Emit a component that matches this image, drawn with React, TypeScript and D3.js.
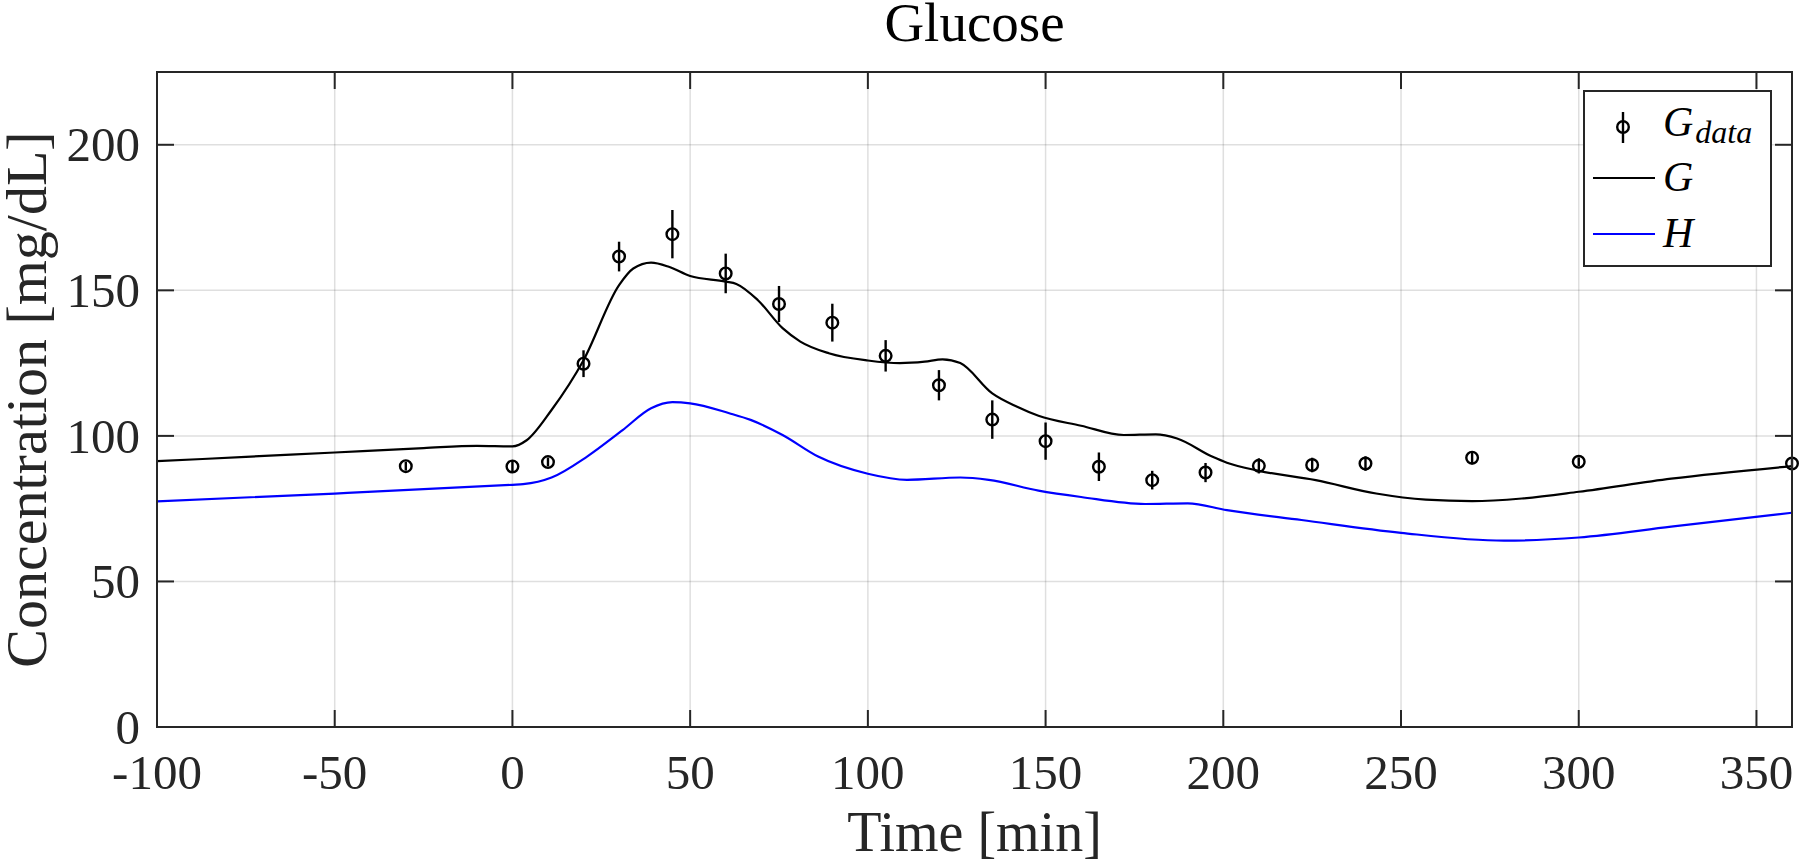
import * as d3 from "d3";
import { useEffect, useRef } from "react";

const WIDTH = 1800;
const HEIGHT = 865;

// measured samples (minutes, mg/dL)
const dataTime = [-30, 0, 10, 20, 30, 45, 60, 75, 90, 105, 120, 135, 150, 165, 180, 195, 210, 225, 240, 270, 300, 360];
const dataValue = [89.6, 89.5, 91, 124.8, 161.6, 169.3, 155.8, 145.3, 138.9, 127.5, 117.4, 105.6, 98.2, 89.4, 84.8, 87.4, 89.7, 90, 90.5, 92.5, 91.1, 90.5];
const dataErr = [1.5, 2, 1.5, 4.6, 5.1, 8.3, 6.8, 6.2, 6.5, 5.4, 5.2, 6.6, 6.4, 4.9, 3.2, 3.3, 2.6, 2.5, 2.5, 2.3, 1.5, 2];

// model G
const gTime = [-100, -75, -50, -25, -10, 0, 4, 11, 20, 30, 34, 39, 44, 50, 60, 63, 69, 76, 81, 89, 100, 109, 116, 121, 126, 135, 142, 148, 160, 172, 181, 187, 197, 201, 210, 226, 243, 257, 270, 284, 300, 326, 360];
const gValue = [91.3, 92.8, 94.3, 95.8, 96.6, 96.4, 98.5, 108.9, 126, 151.8, 157.5, 159.5, 158.1, 154.9, 153, 152.2, 146.7, 137, 132.4, 128.4, 125.9, 125, 125.5, 126.3, 125, 114.6, 110, 106.9, 103.5, 100.3, 100.5, 99.1, 92.8, 90.8, 88, 84.8, 80.2, 78.1, 77.6, 78.5, 80.8, 85.3, 89.6];

// model H
const hTime = [-100, -50, 0, 3, 11, 21, 31, 39, 45, 50, 61, 67, 76, 86, 100, 111, 126, 134, 148, 160, 178, 190, 201, 222, 250, 279, 300, 326, 360];
const hValue = [77.5, 80.2, 83.2, 83.4, 85.7, 92.9, 102, 109.5, 111.6, 111.2, 107.8, 105.5, 100.3, 92.9, 87, 84.9, 85.7, 84.9, 81.2, 79, 76.6, 76.8, 74.5, 71.1, 66.7, 64, 65.1, 68.8, 73.6];

const xTicks = [-100, -50, 0, 50, 100, 150, 200, 250, 300, 350];
const yTicks = [0, 50, 100, 150, 200];

const FONT = '"Liberation Serif", "Times New Roman", serif';
const AXIS = "#262626";

export default function App() {
	const svgRef = useRef<SVGSVGElement>(null);

	useEffect(() => {
		if (!svgRef.current) return;
		document.body.style.margin = "0";

		const left = 157;
		const right = 1792;
		const top = 72;
		const bottom = 727;

		const svg = d3.select(svgRef.current);
		svg.selectAll("*").remove();
		svg.attr("width", WIDTH).attr("height", HEIGHT);

		const x = d3.scaleLinear().domain([-100, 360]).range([left, right]);
		const y = d3.scaleLinear().domain([0, 225]).range([bottom, top]);

		svg.append("rect").attr("width", WIDTH).attr("height", HEIGHT).attr("fill", "#fff");

		svg.append("defs")
			.append("clipPath")
			.attr("id", "plot-clip")
			.append("rect")
			.attr("x", left)
			.attr("y", top)
			.attr("width", right - left)
			.attr("height", bottom - top);

		// grid
		const grid = svg.append("g").attr("stroke", AXIS).attr("stroke-opacity", 0.15).attr("stroke-width", 1.5);
		grid.selectAll(".gx")
			.data(xTicks)
			.enter()
			.append("line")
			.attr("x1", (d) => x(d))
			.attr("x2", (d) => x(d))
			.attr("y1", top)
			.attr("y2", bottom);
		grid.selectAll(".gy")
			.data(yTicks)
			.enter()
			.append("line")
			.attr("x1", left)
			.attr("x2", right)
			.attr("y1", (d) => y(d))
			.attr("y2", (d) => y(d));

		// curves
		const lineOf = (ts: number[], vs: number[]) =>
			d3
				.line<number>()
				.x((_, i) => x(ts[i]))
				.y((d) => y(d))
				.curve(d3.curveMonotoneX)(vs);

		const curves = svg.append("g").attr("clip-path", "url(#plot-clip)").attr("fill", "none").attr("stroke-width", 2.2);
		curves.append("path").attr("d", lineOf(hTime, hValue)).attr("stroke", "#0000ff");
		curves.append("path").attr("d", lineOf(gTime, gValue)).attr("stroke", "#000");

		// error bars + markers
		const pts = svg.append("g").attr("stroke", "#000").attr("fill", "none").attr("stroke-width", 2.4);
		pts.selectAll(".eb")
			.data(dataValue)
			.enter()
			.append("line")
			.attr("x1", (_, i) => x(dataTime[i]))
			.attr("x2", (_, i) => x(dataTime[i]))
			.attr("y1", (d, i) => y(d + dataErr[i]))
			.attr("y2", (d, i) => y(d - dataErr[i]));
		pts.selectAll(".mk")
			.data(dataValue)
			.enter()
			.append("circle")
			.attr("cx", (_, i) => x(dataTime[i]))
			.attr("cy", (d) => y(d))
			.attr("r", 5.8);

		// axes box + inward ticks
		const ax = svg.append("g").attr("stroke", AXIS).attr("stroke-width", 2);
		ax.append("rect")
			.attr("x", left)
			.attr("y", top)
			.attr("width", right - left)
			.attr("height", bottom - top)
			.attr("fill", "none");
		const tl = 17;
		xTicks.forEach((t) => {
			ax.append("line").attr("x1", x(t)).attr("x2", x(t)).attr("y1", bottom).attr("y2", bottom - tl);
			ax.append("line").attr("x1", x(t)).attr("x2", x(t)).attr("y1", top).attr("y2", top + tl);
		});
		yTicks.forEach((t) => {
			ax.append("line").attr("x1", left).attr("x2", left + tl).attr("y1", y(t)).attr("y2", y(t));
			ax.append("line").attr("x1", right).attr("x2", right - tl).attr("y1", y(t)).attr("y2", y(t));
		});

		// tick labels
		const labels = svg.append("g").attr("font-family", FONT).attr("fill", AXIS).attr("font-size", 49);
		labels.selectAll(".xl")
			.data(xTicks)
			.enter()
			.append("text")
			.attr("x", (d) => x(d))
			.attr("y", 789)
			.attr("text-anchor", "middle")
			.text((d) => String(d));
		labels.selectAll(".yl")
			.data(yTicks)
			.enter()
			.append("text")
			.attr("x", 140)
			.attr("y", (d) => y(d))
			.attr("dy", "0.34em")
			.attr("text-anchor", "end")
			.text((d) => String(d));

		// axis titles
		svg.append("text")
			.attr("x", (left + right) / 2)
			.attr("y", 851)
			.attr("text-anchor", "middle")
			.attr("font-family", FONT)
			.attr("font-size", 56)
			.attr("fill", AXIS)
			.text("Time [min]");
		svg.append("text")
			.attr("transform", `translate(46,${(top + bottom) / 2}) rotate(-90)`)
			.attr("text-anchor", "middle")
			.attr("font-family", FONT)
			.attr("font-size", 58)
			.attr("fill", AXIS)
			.text("Concentration [mg/dL]");
		svg.append("text")
			.attr("x", (left + right) / 2)
			.attr("y", 41)
			.attr("text-anchor", "middle")
			.attr("font-family", FONT)
			.attr("font-size", 55)
			.attr("fill", "#000")
			.text("Glucose");

		// legend
		const lg = svg.append("g");
		lg.append("rect")
			.attr("x", 1584)
			.attr("y", 91)
			.attr("width", 187)
			.attr("height", 175)
			.attr("fill", "#fff")
			.attr("stroke", AXIS)
			.attr("stroke-width", 2);
		lg.append("line").attr("x1", 1623).attr("x2", 1623).attr("y1", 112).attr("y2", 143).attr("stroke", "#000").attr("stroke-width", 2.4);
		lg.append("circle").attr("cx", 1623).attr("cy", 127).attr("r", 5.8).attr("fill", "none").attr("stroke", "#000").attr("stroke-width", 2.4);
		lg.append("line").attr("x1", 1593).attr("x2", 1655).attr("y1", 178).attr("y2", 178).attr("stroke", "#000").attr("stroke-width", 2.2);
		lg.append("line").attr("x1", 1593).attr("x2", 1655).attr("y1", 234).attr("y2", 234).attr("stroke", "#0000ff").attr("stroke-width", 2.2);
		const lt = lg.append("g").attr("font-family", FONT).attr("font-style", "italic").attr("font-size", 42).attr("fill", "#000");
		const gd = lt.append("text").attr("x", 1663).attr("y", 136).text("G");
		gd.append("tspan").attr("font-size", 32).attr("dy", 7).attr("dx", 2).text("data");
		lt.append("text").attr("x", 1663).attr("y", 191).text("G");
		lt.append("text").attr("x", 1663).attr("y", 247).text("H");
	}, []);

	return <svg ref={svgRef} style={{ display: "block" }} />;
}
